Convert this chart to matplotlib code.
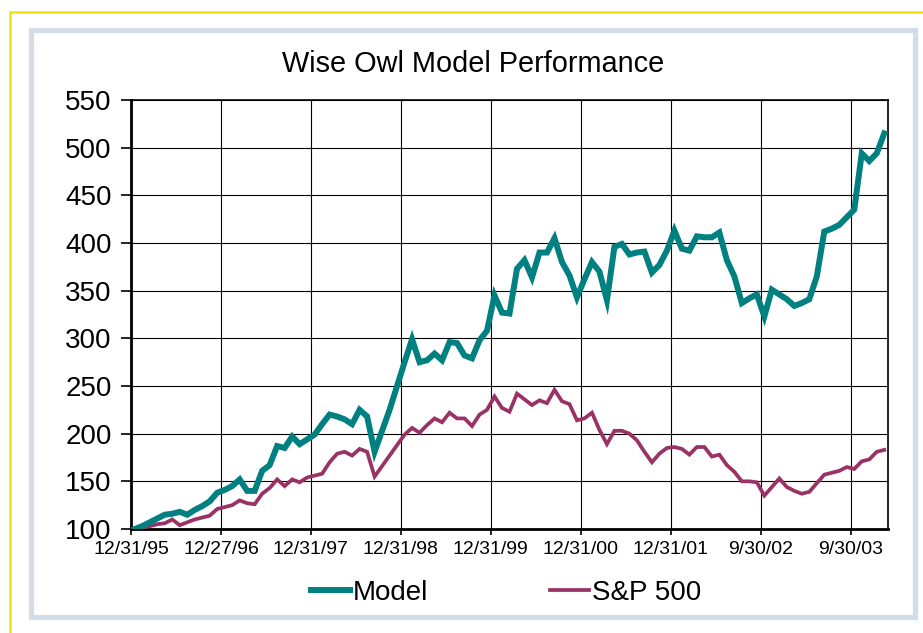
import matplotlib
matplotlib.use("Agg")
import matplotlib.pyplot as plt
from matplotlib.patches import Rectangle

# values, one per month, starting at 100
model = [100, 103, 107, 111, 115, 116, 118, 115, 120, 124,
         129, 138, 141, 145, 152, 140, 140, 161, 167, 187,
         185, 197, 189, 194, 199, 210, 220, 218, 215, 210,
         225, 218, 181, 203, 225, 250, 275, 299, 275, 277,
         284, 277, 296, 295, 282, 279, 298, 308, 345, 327,
         326, 373, 382, 364, 390, 390, 405, 380, 366, 343,
         362, 380, 370, 340, 396, 399, 388, 390, 391, 369,
         377, 392, 413, 394, 392, 407, 406, 406, 411, 382,
         365, 337, 342, 346, 323, 351, 346, 341, 334, 337,
         341, 365, 412, 415, 419, 427, 435, 494, 486, 494,
         515]
sp500 = [100, 101, 103, 105, 106, 110, 104, 107, 110, 112,
         114, 121, 123, 125, 130, 127, 126, 137, 143, 152,
         145, 152, 149, 154, 156, 158, 170, 179, 181, 177,
         184, 181, 155, 166, 177, 188, 199, 206, 201, 209,
         216, 212, 222, 216, 216, 208, 220, 225, 239, 227,
         223, 242, 236, 230, 235, 232, 246, 234, 231, 214,
         216, 222, 204, 189, 203, 203, 200, 193, 181, 170,
         179, 185, 186, 184, 178, 186, 186, 176, 178, 167,
         160, 150, 150, 149, 135, 144, 153, 144, 140, 137,
         139, 148, 157, 159, 161, 165, 163, 171, 173, 181,
         183]
date_labels = ["12/31/95", "12/27/96", "12/31/97", "12/31/98", "12/31/99",
               "12/31/00", "12/31/01", "9/30/02", "9/30/03"]
y_ticks = [100, 150, 200, 250, 300, 350, 400, 450, 500, 550]

W, H = 923, 633
plt.rcParams['font.family'] = ['Liberation Sans', 'DejaVu Sans']

fig = plt.figure(figsize=(W / 100, H / 100), dpi=100)
fig.patch.set_facecolor("white")


def px_rect(x0, y0, x1, y1, **kw):
    # rectangle given in picture pixels (y down)
    return Rectangle((x0 / W, 1 - y1 / H), (x1 - x0) / W, (y1 - y0) / H,
                     transform=fig.transFigure, fill=False, **kw)


# yellow outer border and light blue frame
fig.add_artist(px_rect(10, 12, 940, 660, edgecolor="#EEE21A", linewidth=1.8))
fig.add_artist(px_rect(30.8, 29.8, 914.5, 617, edgecolor="#D2DDE8", linewidth=3.8))

ax = fig.add_axes([131 / W, 1 - 529 / H, (888 - 131) / W, (529 - 100) / H])

x = list(range(len(model)))
ax.plot(x, model, color="#008080", linewidth=4.3, label="Model",
        solid_joinstyle="miter", zorder=4)
ax.plot(x, sp500, color="#993366", linewidth=2.7, label="S&P 500",
        solid_joinstyle="miter", zorder=3)

ax.set_xlim(-0.5, len(model) - 0.5)
ax.set_ylim(100, 550)
ax.set_yticks(y_ticks)
ax.set_yticklabels([str(v) for v in y_ticks], fontsize=20)
ax.set_xticks([-0.5 + 12 * i for i in range(len(date_labels))])
ax.set_xticklabels(date_labels, fontsize=14)
ax.tick_params(axis="y", length=7, width=1.2, pad=7)
ax.tick_params(axis="x", length=4, width=1.2, pad=5)

ax.grid(True, color="black", linewidth=0.8, zorder=1)
ax.set_axisbelow(True)
for side in ["left", "bottom"]:
    ax.spines[side].set_linewidth(2.0)
for side in ["top", "right"]:
    ax.spines[side].set_linewidth(1.2)

fig.text(473 / W, 1 - 64 / H, "Wise Owl Model Performance", fontsize=20.8,
         ha="center", va="center")

fig.legend(loc="center", bbox_to_anchor=(506 / W, 1 - 593 / H), ncol=2,
           frameon=False, fontsize=20, handlelength=1.4, handletextpad=0.1,
           columnspacing=4.4)

fig.savefig("out.png", dpi=100)
